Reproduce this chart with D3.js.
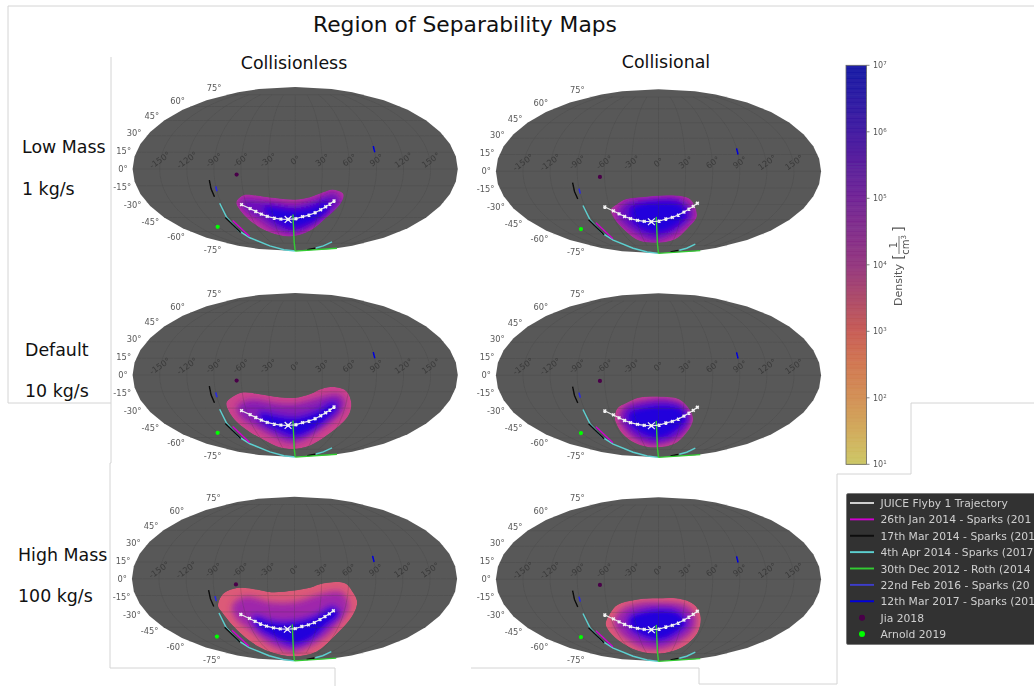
<!DOCTYPE html>
<html><head><meta charset="utf-8">
<script src="https://d3js.org/d3.v7.min.js"></script>
<style>
html,body{margin:0;padding:0;background:#fff;overflow:hidden}
svg{display:block}
text{font-family:"DejaVu Sans",sans-serif}
</style></head><body><svg id="c" width="1034" height="686"></svg>
<script>
// ---------- data (longitude, latitude in degrees) ----------
const latTicks=[75,60,45,30,15,0,-15,-30,-45,-60,-75];
const lonTicks=[-150,-120,-90,-60,-30,0,30,60,90,120,150];
const flybyTrajectory=[[-66,-32.4],[-57,-36.2],[-51,-39],[-45,-41.6],[-38,-43.8],[-29,-45.5],[-20,-46.6],[-10,-46.9],[1,-46.2],[10,-44.1],[18.5,-42.5],[26,-40.2],[32.5,-37.3],[38,-34.4],[42.6,-31.8],[46.7,-28.9]];
const closestApproach=[[-10,-46.9]];
const plumeCyanWest=[[-92,-31],[-94,-45],[-95,-59],[-92,-67.5],[-81,-79],[-70,-86],[0,-90]];
const plumeCyanEast=[[85,-82.5],[90,-79],[89,-73]];
const plumeMagenta=[[-89,-48],[-89,-66]];
const plumeBlackWest=[[-96,-45],[-95,-61]];
const plumeBlackNorth=[[-96,-10],[-96,-18],[-95,-25]];
const plumeBlackEast=[[75,-86],[85,-83]];
const plumeGreenMeridian=[[-3,-42],[-2.5,-74],[0,-90]];
const plumeGreenLimb=[[0,-90],[179,-83]];
const plumeFeb2016=[[-90,-15.5],[-90,-20]];
const plumeMar2017=[[90,20.5],[90,15]];
const jia2018=[[-65,-5]];
const arnold2019=[[-121,-54.7]];

const lowCollisionlessRim=[[-72,-31.8],[-70,-28.5],[-60,-23.3],[-45,-23.8],[-26,-26],[0,-27.6],[17,-25.4],[32,-20.9],[43,-18.3],[56,-22.4],[56,-30],[43,-45],[25,-59],[-10,-66],[-44,-61],[-59,-53.6],[-69,-41.6]];
const lowCollisionlessMid=[[-63,-30],[-53,-30],[-25,-33],[0,-35],[26,-30],[45,-24],[52,-30],[41,-40],[26,-50],[0,-59],[-29,-55],[-46,-45],[-61,-36]];
const lowCollisionlessCore=[[-38,-36],[0,-38.5],[23,-35],[38,-30],[41,-35],[32,-45],[15,-52],[-8,-55],[-30,-46]];
const lowCollisionalRim=[[-60,-35],[-51,-30],[-38,-25],[-17,-23],[11,-21.5],[28,-22.5],[37,-25],[43,-30],[51,-42],[45,-54],[32,-67],[-9,-71],[-40,-68.5],[-53,-57.5],[-60,-45]];
const lowCollisionalMid=[[-51,-40],[-39,-30],[-13,-27.5],[19,-26],[33,-30],[43,-40],[35,-50],[16,-60],[-11,-65],[-38,-55],[-48,-47]];
const lowCollisionalCore=[[-35,-35],[-21,-30],[3,-28],[25,-30],[36,-40],[26,-50],[4,-57.5],[-20,-55],[-35,-45]];
const defaultCollisionlessRim=[[-81,-25],[-73,-20],[-59,-15.5],[-38,-17.5],[-18,-20],[0,-20.5],[17,-17],[31,-12],[46,-11],[58,-14.5],[66,-25],[68,-35],[64,-45],[52,-57.5],[32,-70],[-5,-74.5],[-36,-72.5],[-56,-63.5],[-70,-54],[-79,-43.5],[-82,-33]];
const defaultCollisionlessMid=[[-67,-30],[-51,-25],[-22,-28.5],[0,-29],[25,-24],[48,-20],[55,-25],[52,-35],[39,-45],[23,-55],[-6,-63],[-34,-55],[-53,-45],[-65,-38]];
const defaultCollisionlessCore=[[-44,-35],[-24,-38],[0,-40],[27,-34],[45,-25.5],[50,-30],[41,-40],[26,-50],[0,-58],[-27,-51],[-43,-43]];
const defaultCollisionalRim=[[-57,-40],[-50,-30],[-38,-25],[-22,-20],[10,-19.5],[24,-21.5],[35,-28.5],[43,-36.5],[46,-43],[43,-55.5],[32,-67.5],[-18,-72],[-47,-66],[-57,-55.5],[-58,-45.5]];
const defaultCollisionalMid=[[-48,-40],[-39,-30],[-17,-25],[11,-23.5],[29,-28.5],[40,-40],[35,-55],[16,-62.5],[-14,-65],[-41,-55],[-47,-46]];
const defaultCollisionalCore=[[-37,-35],[-21,-30],[3,-27.5],[25,-30],[36,-40],[28,-50],[4,-60],[-25,-55],[-38,-45]];
const highCollisionlessRim=[[-90,-25],[-83,-15.5],[-74,-10.5],[-61,-8],[-42,-9.5],[-26,-12],[-1,-10.5],[17,-8],[32,-4],[56,-4],[66,-12.5],[72,-20],[73,-28],[70,-39],[63,-52.5],[53,-73],[-4,-80],[-60,-73],[-76,-60],[-83,-44],[-88,-30]];
const highCollisionlessMid=[[-70,-25],[-55,-18.5],[-29,-23.5],[0,-23.5],[33,-15.5],[51,-14],[61,-25],[57,-35],[47,-50],[32,-60],[-3,-70],[-42,-60],[-59,-45],[-70,-35]];
const highCollisionlessCore=[[-51,-35],[-28,-40],[0,-40],[24,-35.5],[46,-26],[54,-32],[43,-42.5],[30,-55],[0,-64],[-33,-55],[-50,-45]];
const highCollisionalRim=[[-69,-40],[-58,-30],[-48,-23],[-24,-18],[-1,-17],[20,-17],[35,-20],[46,-26],[53,-35],[57,-49.5],[49,-65],[7,-75],[-47,-71],[-67,-58],[-71,-46]];
const highCollisionalMid=[[-54,-40],[-43,-30],[-21,-24],[7,-23.5],[31,-26],[43,-35],[45,-45],[35,-55],[11,-64],[-26,-64],[-46,-55],[-54,-45]];
const highCollisionalCore=[[-36,-35],[-21,-30],[3,-27.5],[23,-30],[36,-40],[26,-50],[2,-58],[-25,-53],[-38,-45]];

const colTitles=["Collisionless","Collisional"];
const rowTitles=[["Low Mass","1 kg/s"],["Default","10 kg/s"],["High Mass","100 kg/s"]];
const rimDensity=[4.6,4.6,4.1,4.1,3.5,3.5];
const midDensity=[5.5,5.5,5.2,5.3,4.9,5.0];
const coreDensity=[6.6,6.6,6.6,6.6,6.6,6.6];
const rimShapes=[lowCollisionlessRim,lowCollisionalRim,defaultCollisionlessRim,defaultCollisionalRim,highCollisionlessRim,highCollisionalRim];
const midShapes=[lowCollisionlessMid,lowCollisionalMid,defaultCollisionlessMid,defaultCollisionalMid,highCollisionlessMid,highCollisionalMid];
const coreShapes=[lowCollisionlessCore,lowCollisionalCore,defaultCollisionlessCore,defaultCollisionalCore,highCollisionlessCore,highCollisionalCore];
const colorbarExponents=[1,2,3,4,5,6,7];
const legendLines=["JUICE Flyby 1 Trajectory","26th Jan 2014 - Sparks (201","17th Mar 2014 - Sparks (201","4th Apr 2014 - Sparks (2017","30th Dec 2012 - Roth (2014","22nd Feb 2016 - Sparks (20","12th Mar 2017 - Sparks (201"];
const legendDots=["Jia 2018","Arnold 2019"];

// ---------- styles and layout ----------
const lineColors={flyby:"#e6e6e6",magenta:"#d000d0",black:"#0a0a0a",cyan:"#5cd0d0",green:"#33cc33",feb:"#2a2ae0",mar:"#0000dd"};
const legendColors=["#d8d8d8",lineColors.magenta,lineColors.black,lineColors.cyan,lineColors.green,"#3c3ccc",lineColors.mar];
const dotColors={jia:"#4a0048",arnold:"#00ff00"};
const panelCentres=[[295.2,169],[658.5,171.3],[295.2,375],[658.5,375.3],[294.5,578.8],[658.5,579.3]];
const mapColor=d3.scaleLinear().domain([3.5,4.2,4.8,5.5,6.6]).range(["#dc5a78","#c84090","#a82ca8","#6c10bc","#2000dc"]);
const barColor=d3.scaleLinear().domain([1,1.5,2,2.5,3,3.5,4,5,6,7]).range(["#c9c45c","#cfa652","#d08a4c","#ce7048","#c4544c","#a84060","#8e2c78","#6a1a90","#380c9c","#0a10a0"]);

const svg=d3.select("#c");
const defs=svg.append("defs");
defs.append("filter").attr("id","soft").attr("x","-5%").attr("y","-5%").attr("width","110%").attr("height","110%")
  .append("feGaussianBlur").attr("stdDeviation",0.45);
defs.append("filter").attr("id","faint").attr("x","-5%").attr("y","-5%").attr("width","110%").attr("height","110%")
  .append("feGaussianBlur").attr("stdDeviation",0.25);
defs.append("filter").attr("id","band").attr("x","-30%").attr("y","-30%").attr("width","160%").attr("height","160%")
  .append("feGaussianBlur").attr("stdDeviation",3.2);

// composite-image seams
const seams=[[[8,403],[8,6],[1034,6]],[[8,403],[111,403],[111,57]],[[111,403],[111,463],[110,463],[110,668],[335,668],[335,686]],
 [[471,668],[699,668],[699,684],[837,684],[837,474],[911,474],[911,403],[1034,403]]];
svg.append("g").selectAll("path").data(seams).join("path")
  .attr("d",d3.line()).attr("fill","none").attr("stroke","#d4d4d4").attr("stroke-width",1);

// Mollweide (the reference panels are very slightly narrower than 2:1)
const PANEL_ASPECT=0.991;
function mollweideRaw(l,p){
  let t=p;
  if(Math.abs(p)<Math.PI/2-1e-6){
    const k=Math.PI*Math.sin(p);
    for(let i=0;i<40;i++){
      const d=(2*t+Math.sin(2*t)-k)/(2+2*Math.cos(2*t));
      t-=d; if(Math.abs(d)<1e-8)break;
    }
  }
  return [PANEL_ASPECT*2*Math.SQRT2/Math.PI*l*Math.cos(t),Math.SQRT2*Math.sin(t)];
}
const MAP_SCALE=58;

function drawPanel(i){
  const [cx,cy]=panelCentres[i];
  const proj=d3.geoProjection(mollweideRaw).scale(MAP_SCALE).translate([cx,cy]);
  const geo=d3.geoPath(proj);
  const g=svg.append("g").attr("filter","url(#soft)");
  g.append("path").datum({type:"Sphere"}).attr("d",geo).attr("fill","#595959");
  const open=d3.line().x(d=>proj(d)[0]).y(d=>proj(d)[1]);
  const smooth=d3.line().x(d=>proj(d)[0]).y(d=>proj(d)[1]).curve(d3.curveCatmullRomClosed.alpha(0.5));

  // density field
  const clipId="rim"+i;
  defs.append("clipPath").attr("id",clipId).append("path").attr("d",smooth(rimShapes[i]));
  const field=g.append("g").attr("clip-path",`url(#${clipId})`);
  field.append("path").attr("d",smooth(rimShapes[i])).attr("fill",mapColor(rimDensity[i]));
  const inner=field.append("g").attr("filter","url(#band)");
  inner.append("path").attr("d",smooth(midShapes[i])).attr("fill",mapColor(midDensity[i])).attr("stroke",mapColor(midDensity[i])).attr("stroke-width",6);
  inner.append("path").attr("d",smooth(coreShapes[i])).attr("fill",mapColor(coreDensity[i])).attr("stroke",mapColor(coreDensity[i])).attr("stroke-width",4);

  // graticule
  const grid=g.append("g").attr("fill","none").attr("stroke","#383838").attr("stroke-width",0.7).attr("opacity",0.32);
  lonTicks.forEach(lon=>grid.append("path").attr("d",open(d3.range(-75,75.5,3).map(lat=>[lon,lat]))));
  latTicks.forEach(lat=>grid.append("path").attr("d",open(d3.range(-180,180.5,6).map(lon=>[lon,lat]))));

  // plume observations
  const drawLine=(pts,color,w)=>g.append("path").attr("d",open(pts)).attr("fill","none").attr("stroke",color).attr("stroke-width",w);
  drawLine(plumeCyanWest,lineColors.cyan,1.4);
  drawLine(plumeCyanEast,lineColors.cyan,1.4);
  drawLine(plumeMagenta,lineColors.magenta,1.4);
  drawLine(plumeBlackWest,lineColors.black,1.4);
  drawLine(plumeBlackNorth,lineColors.black,1.4);
  drawLine(plumeBlackEast,lineColors.black,1.4);
  drawLine(plumeGreenMeridian,lineColors.green,1.4);
  drawLine(plumeGreenLimb,lineColors.green,1.3);
  drawLine(plumeFeb2016,lineColors.feb,1.6);
  drawLine(plumeMar2017,lineColors.mar,1.5);
  g.selectAll("circle.jia").data(jia2018).join("circle").attr("cx",d=>proj(d)[0]).attr("cy",d=>proj(d)[1]).attr("r",2.1).attr("fill",dotColors.jia);
  g.selectAll("circle.arn").data(arnold2019).join("circle").attr("cx",d=>proj(d)[0]).attr("cy",d=>proj(d)[1]).attr("r",2.1).attr("fill",dotColors.arnold);

  // trajectory
  drawLine(flybyTrajectory,lineColors.flyby,1.2);
  const sym=d3.symbol().type(d3.symbolX);
  g.append("g").selectAll("path").data(flybyTrajectory).join("path")
    .attr("transform",d=>`translate(${proj(d)})`).attr("d",sym.size(6)()).attr("fill","none").attr("stroke","#f4f4f4").attr("stroke-width",1.5);
  g.append("g").selectAll("path").data(closestApproach).join("path")
    .attr("transform",d=>`translate(${proj(d)})`).attr("d",sym.size(32)()).attr("fill","none").attr("stroke","#f4f4f4").attr("stroke-width",1.2);

  // tick labels
  const labels=svg.append("g").attr("filter","url(#faint)");
  labels.append("g").selectAll("text").data(latTicks).join("text")
    .attr("x",d=>proj([-180,d])[0]-5).attr("y",d=>proj([-180,d])[1]-d*0.09+3)
    .attr("text-anchor","end").attr("font-size",8.3).attr("fill","#5a5a5a").text(d=>d+"°");
  labels.append("g").selectAll("text").data(lonTicks).join("text")
    .attr("transform",d=>`translate(${proj([d,0])[0]},${cy-9}) rotate(-35)`)
    .attr("text-anchor","middle").attr("dy",3).attr("font-size",8.3).attr("fill","#3a3a3a").text(d=>d+"°");
}
d3.range(6).forEach(drawPanel);

// titles
const T=(x,y,s,size,anchor="start")=>svg.append("text").attr("x",x).attr("y",y).attr("font-size",size).attr("text-anchor",anchor).attr("fill","#111").text(s);
T(465,32,"Region of Separability Maps",21.8,"middle");
T(294,69,colTitles[0],17.4,"middle");
T(666,68,colTitles[1],17.4,"middle");
const rowX=[22,25,18],rowY=[[153,195],[356,397],[561,602]];
rowTitles.forEach((r,i)=>{T(rowX[i],rowY[i][0],r[0],17.4);T(rowX[i],rowY[i][1],r[1],17.4);});

// colour bar
const barY=d3.scaleLog().domain([10,1e7]).range([464.3,65.3]);
const barX=846,barW=20.5;
const bar=svg.append("g").attr("filter","url(#soft)");
const bandExp=d3.range(1,7,0.05);
bar.append("g").selectAll("rect").data(bandExp).join("rect")
  .attr("x",barX).attr("width",barW)
  .attr("y",d=>barY(Math.pow(10,d+0.05))).attr("height",d=>barY(Math.pow(10,d))-barY(Math.pow(10,d+0.05))+0.5)
  .attr("fill",d=>barColor(d+0.025)).attr("opacity",0.93);
bar.append("rect").attr("x",barX).attr("y",65.3).attr("width",barW).attr("height",399).attr("fill","none").attr("stroke","#666").attr("stroke-width",0.8);
bar.append("g").selectAll("line").data(colorbarExponents).join("line")
  .attr("x1",barX+barW).attr("x2",barX+barW+3).attr("y1",d=>barY(Math.pow(10,d))).attr("y2",d=>barY(Math.pow(10,d))).attr("stroke","#666").attr("stroke-width",0.8);
const tl=bar.append("g").selectAll("text").data(colorbarExponents).join("text")
  .attr("x",873).attr("y",d=>barY(Math.pow(10,d))+3).attr("font-size",8).attr("fill","#555");
tl.append("tspan").text("10");
tl.append("tspan").attr("dy",-3).attr("font-size",5.5).text(d=>d);
const lab=bar.append("g").attr("transform","translate(899,245) rotate(-90)").attr("fill","#555");
lab.append("text").attr("x",-40).attr("y",3).attr("text-anchor","middle").attr("font-size",11).text("Density");
lab.append("text").attr("x",-12).attr("y",3.5).attr("text-anchor","middle").attr("font-size",14).text("[");
lab.append("text").attr("x",16).attr("y",3.5).attr("text-anchor","middle").attr("font-size",14).text("]");
lab.append("line").attr("x1",-9).attr("x2",9).attr("y1",0).attr("y2",0).attr("stroke","#555").attr("stroke-width",0.8);
lab.append("text").attr("x",0).attr("y",-2).attr("text-anchor","middle").attr("font-size",10).text("1");
const cm=lab.append("text").attr("x",0).attr("y",10).attr("text-anchor","middle").attr("font-size",10);
cm.append("tspan").text("cm");
cm.append("tspan").attr("dy",-3).attr("font-size",7).text("3");

// legend
const leg=svg.append("g").attr("filter","url(#soft)");
leg.append("rect").attr("x",846.5).attr("y",493.5).attr("width",200).attr("height",151).attr("rx",1.5).attr("fill","#333").attr("stroke","#666").attr("stroke-width",0.6);
const rowPos=d3.scalePoint().domain(d3.range(9)).range([503,634]);
leg.append("g").selectAll("line").data(legendLines).join("line")
  .attr("x1",850).attr("x2",874).attr("y1",(d,i)=>rowPos(i)).attr("y2",(d,i)=>rowPos(i))
  .attr("stroke",(d,i)=>legendColors[i]).attr("stroke-width",1.9);
leg.append("g").selectAll("text").data(legendLines.concat(legendDots)).join("text")
  .attr("x",880.5).attr("y",(d,i)=>rowPos(i)+4).attr("font-size",10.75).attr("fill","#cfcfcf").text(d=>d);
leg.append("circle").attr("cx",862).attr("cy",rowPos(7)).attr("r",3).attr("fill",dotColors.jia);
leg.append("circle").attr("cx",862).attr("cy",rowPos(8)).attr("r",3).attr("fill",dotColors.arnold);
</script></body></html>
